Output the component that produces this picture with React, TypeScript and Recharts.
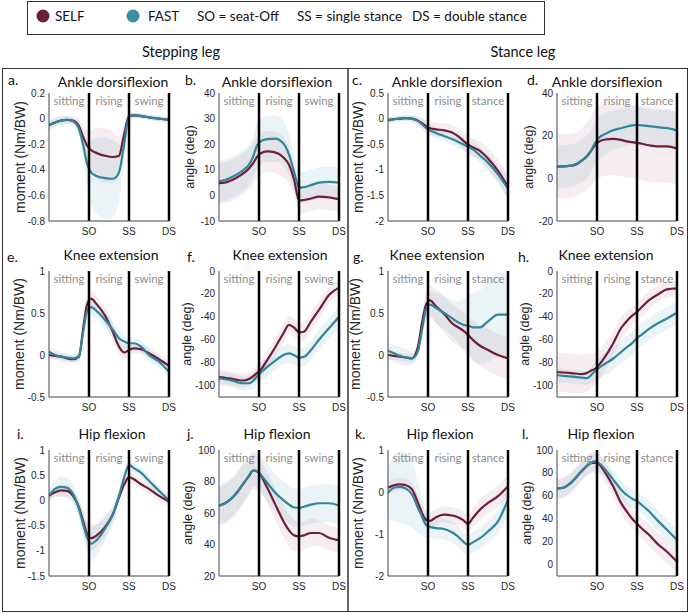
import React from "react";
import {
  ComposedChart,
  Area,
  Line,
  XAxis,
  YAxis,
  ReferenceLine,
  ReferenceArea,
} from "recharts";

const SELF_COLOR = "#701c3a";
const FAST_COLOR = "#2e8698";

// normalised time: 0 = start, 100 = seat-off, 200 = single stance, 300 = double stance
const X = [0, 15, 30, 45, 60, 75, 85, 95, 105, 120, 140, 160, 175, 188, 200, 212, 230, 250, 275, 300];
const PHASE_TICKS = [100, 200, 300];
const PHASE_NAMES: Record<number, string> = { 100: "SO", 200: "SS", 300: "DS" };

// a. stepping leg, ankle moment
const aSelf = [-0.05, -0.03, -0.015, -0.01, -0.015, -0.06, -0.14, -0.21, -0.245, -0.27, -0.29, -0.3, -0.29, -0.12, 0.02, 0.025, 0.02, 0.01, 0, -0.01];
const aFast = [-0.05, -0.03, -0.015, -0.01, -0.02, -0.08, -0.2, -0.35, -0.42, -0.45, -0.465, -0.47, -0.42, -0.2, 0.02, 0.025, 0.02, 0.01, 0, -0.01];
const aSelfSd = [0.03, 0.03, 0.03, 0.03, 0.03, 0.05, 0.08, 0.12, 0.16, 0.2, 0.21, 0.2, 0.15, 0.08, 0.03, 0.02, 0.02, 0.02, 0.02, 0.02];
const aFastSd = [0.04, 0.04, 0.04, 0.03, 0.03, 0.05, 0.1, 0.18, 0.25, 0.3, 0.32, 0.3, 0.22, 0.1, 0.03, 0.02, 0.02, 0.02, 0.02, 0.02];

// b. stepping leg, ankle angle
const bSelf = [4.8, 5, 5.8, 7, 8.5, 10.5, 12.5, 15, 16.5, 17.2, 16.8, 15, 12, 6, -2, -1.8, -1.2, -0.5, -0.8, -1.5];
const bFast = [5.5, 6, 7, 8.2, 9.8, 12, 15, 19.5, 21.2, 22, 22.2, 20.5, 16, 9, 3, 3.2, 4, 5, 5.3, 5];
const bSelfSd = [8, 8, 8, 8, 8, 8, 8, 8, 8, 8, 8, 8, 7, 6, 5, 5, 5, 5, 5, 5];
const bFastSd = [8, 8, 8, 8, 8, 8, 8, 9, 9, 9, 9, 9, 8, 7, 6, 6, 6, 6, 6, 6];

// c. stance leg, ankle moment
const cSelf = [-0.03, -0.01, 0, 0.01, 0, -0.04, -0.09, -0.15, -0.19, -0.21, -0.23, -0.27, -0.34, -0.43, -0.51, -0.56, -0.63, -0.78, -1.02, -1.33];
const cFast = [-0.03, -0.01, 0, 0.01, 0, -0.05, -0.11, -0.18, -0.23, -0.28, -0.34, -0.4, -0.45, -0.5, -0.55, -0.6, -0.72, -0.86, -1.09, -1.37];
const cSelfSd = [0.05, 0.05, 0.05, 0.05, 0.06, 0.08, 0.1, 0.12, 0.13, 0.13, 0.14, 0.15, 0.16, 0.17, 0.17, 0.17, 0.18, 0.2, 0.22, 0.24];
const cFastSd = [0.05, 0.05, 0.05, 0.05, 0.06, 0.08, 0.1, 0.11, 0.11, 0.11, 0.11, 0.12, 0.12, 0.13, 0.13, 0.13, 0.14, 0.16, 0.18, 0.2];

// d. stance leg, ankle angle
const dSelf = [5.5, 5.6, 5.8, 6.3, 8, 10.5, 12.8, 15.5, 17.2, 18.2, 18.5, 18, 17.3, 17, 16.6, 16.2, 15.5, 15, 15, 14];
const dFast = [5.5, 5.6, 5.8, 6.5, 8.2, 10.2, 13, 16.5, 19, 20.8, 22.5, 23.5, 24.3, 24.8, 25, 24.8, 24.5, 24, 23.5, 22.5];
const dSelfSd = [15, 15, 15, 15, 15, 16, 16, 17, 17, 17, 17, 17, 17, 17, 17, 17, 17, 17, 17, 17];
const dFastSd = [10, 10, 10, 10, 10, 10, 10, 10, 10, 10, 9, 9, 9, 9, 9, 9, 9, 9, 9, 9];

// e. stepping leg, knee moment
const eSelf = [0, -0.01, -0.02, -0.04, -0.05, -0.02, 0.3, 0.6, 0.67, 0.6, 0.47, 0.27, 0.1, 0.03, 0.06, 0.08, 0.07, 0.02, -0.05, -0.13];
const eFast = [0.04, 0, -0.02, -0.03, -0.04, -0.01, 0.26, 0.52, 0.57, 0.52, 0.42, 0.3, 0.2, 0.16, 0.14, 0.14, 0.1, 0, -0.08, -0.2];
const eSelfSd = [0.04, 0.04, 0.04, 0.04, 0.04, 0.05, 0.07, 0.09, 0.1, 0.1, 0.1, 0.1, 0.09, 0.08, 0.07, 0.06, 0.06, 0.06, 0.06, 0.06];
const eFastSd = [0.06, 0.06, 0.06, 0.05, 0.05, 0.06, 0.08, 0.1, 0.1, 0.1, 0.1, 0.1, 0.1, 0.08, 0.07, 0.07, 0.07, 0.07, 0.07, 0.07];

// f. stepping leg, knee angle
const fSelf = [-92.7, -93.2, -94, -95, -95.6, -94.3, -92, -89, -86, -78, -67, -55, -47, -49.5, -53.5, -53, -44, -34, -21, -14.5];
const fFast = [-93.6, -94.5, -95.5, -97, -98, -98, -96, -92, -88.5, -84, -78.5, -73.5, -72, -73.5, -75.6, -75, -69, -60, -50, -40];
const fSelfSd = [6, 6, 6, 6, 6, 6, 6, 7, 7, 7, 8, 8, 8, 8, 8, 8, 8, 8, 7, 6];
const fFastSd = [6, 6, 6, 6, 6, 6, 7, 7, 8, 8, 8, 8, 8, 8, 8, 8, 8, 9, 9, 9];

// g. stance leg, knee moment
const gSelf = [0, -0.01, -0.02, -0.03, -0.04, 0.1, 0.38, 0.6, 0.65, 0.58, 0.49, 0.38, 0.33, 0.29, 0.24, 0.18, 0.11, 0.06, 0, -0.04];
const gFast = [0.05, 0.02, -0.01, -0.03, -0.04, 0.05, 0.3, 0.54, 0.6, 0.56, 0.5, 0.44, 0.39, 0.36, 0.35, 0.33, 0.33, 0.4, 0.48, 0.48];
const gSelfSd = [0.05, 0.05, 0.05, 0.05, 0.05, 0.06, 0.1, 0.15, 0.18, 0.2, 0.22, 0.22, 0.22, 0.22, 0.22, 0.23, 0.24, 0.25, 0.25, 0.25];
const gFastSd = [0.1, 0.1, 0.1, 0.1, 0.08, 0.08, 0.1, 0.14, 0.16, 0.18, 0.2, 0.22, 0.25, 0.3, 0.36, 0.4, 0.44, 0.48, 0.5, 0.5];

// h. stance leg, knee angle
const hSelf = [-88.3, -88.6, -89, -89.5, -90, -89, -87, -85.5, -82, -75, -63.5, -50, -43.5, -39, -35.7, -31.5, -25.5, -21, -16, -15.2];
const hFast = [-91, -91.5, -92, -92.5, -93, -93.6, -91, -87.5, -84.5, -81, -76.6, -70.8, -66.5, -63, -58.5, -55.5, -50.5, -46, -41.5, -36.5];
const hSelfSd = [17, 17, 17, 17, 17, 16, 15, 14, 13, 12, 11, 10, 9, 8, 8, 8, 8, 7, 7, 7];
const hFastSd = [6, 6, 6, 6, 6, 6, 7, 8, 9, 10, 10, 10, 10, 10, 10, 10, 10, 10, 10, 10];

// i. stepping leg, hip moment
const iSelf = [0.09, 0.16, 0.2, 0.19, 0.09, -0.14, -0.4, -0.66, -0.75, -0.69, -0.53, -0.27, 0.06, 0.32, 0.46, 0.42, 0.32, 0.23, 0.09, -0.02];
const iFast = [0.09, 0.23, 0.27, 0.25, 0.13, -0.17, -0.46, -0.73, -0.86, -0.78, -0.56, -0.27, 0.09, 0.46, 0.7, 0.64, 0.55, 0.39, 0.19, 0];
const iSelfSd = [0.1, 0.1, 0.12, 0.12, 0.12, 0.15, 0.2, 0.25, 0.25, 0.22, 0.2, 0.15, 0.12, 0.1, 0.1, 0.1, 0.1, 0.1, 0.1, 0.1];
const iFastSd = [0.12, 0.15, 0.2, 0.2, 0.18, 0.18, 0.22, 0.3, 0.35, 0.3, 0.25, 0.18, 0.12, 0.1, 0.1, 0.1, 0.1, 0.1, 0.1, 0.1];

// j. stepping leg, hip angle
const jSelf = [64.7, 66.2, 69, 73, 78.4, 83.6, 87, 86.5, 83.5, 76.3, 65.8, 55.3, 49, 45.8, 45.2, 45.8, 47.3, 47.3, 44.3, 42.6];
const jFast = [64.7, 66.2, 69, 73, 78.4, 83.6, 87, 86.5, 84.2, 79.4, 73, 68.3, 65.3, 63.5, 63.2, 64, 65.3, 66.2, 66.2, 64.7];
const jSelfSd = [12, 12, 12, 12, 12, 11, 10, 10, 10, 10, 10, 10, 10, 10, 9, 9, 9, 8, 8, 8];
const jFastSd = [13, 13, 13, 13, 13, 12, 12, 12, 12, 12, 12, 12, 12, 12, 12, 12, 12, 12, 12, 12];

// k. stance leg, hip moment
const kSelf = [0.1, 0.16, 0.18, 0.16, 0.06, -0.26, -0.5, -0.66, -0.69, -0.6, -0.54, -0.56, -0.6, -0.67, -0.76, -0.62, -0.42, -0.26, -0.1, 0.14];
const kFast = [-0.02, 0.1, 0.12, 0.08, -0.06, -0.38, -0.58, -0.78, -0.83, -0.86, -0.88, -0.96, -1.06, -1.18, -1.26, -1.2, -1.1, -0.94, -0.7, -0.18];
const kSelfSd = [0.15, 0.15, 0.15, 0.15, 0.15, 0.18, 0.2, 0.2, 0.2, 0.2, 0.2, 0.2, 0.2, 0.2, 0.2, 0.22, 0.24, 0.25, 0.25, 0.25];
const kFastSd = [0.6, 0.8, 0.85, 0.85, 0.8, 0.6, 0.45, 0.3, 0.25, 0.25, 0.25, 0.25, 0.25, 0.25, 0.25, 0.25, 0.25, 0.25, 0.3, 0.35];

// l. stance leg, hip angle
const lSelf = [66.2, 67, 70, 75, 81, 86.2, 88.5, 89, 87.5, 80.5, 68.5, 53.8, 46, 40, 35.6, 31.5, 26, 18.5, 11.2, 2.4];
const lFast = [66.2, 67, 70, 75, 81, 86.2, 89.1, 90, 88.5, 83.2, 74.4, 65.6, 60.5, 57.5, 55.3, 52, 46.5, 39, 30.3, 21.5];
const lSelfSd = [9, 9, 9, 9, 9, 9, 9, 9, 9, 9, 9, 9, 9, 9, 9, 9, 10, 10, 10, 10];
const lFastSd = [8, 8, 8, 8, 8, 8, 8, 8, 8, 8, 8, 8, 8, 8, 8, 8, 9, 9, 9, 9];

const MOMENT = "moment (Nm/BW)";
const ANGLE = "angle (deg)";
const ROW_TITLES = ["Ankle dorsiflexion", "Knee extension", "Hip flexion"];

// layout (page pixels)
const COL_LEFT = [49, 219, 388, 557];
const ROW_TOP = [93, 271, 450];
const ROW_H = [128, 126, 126];
const PLOT_W = 120;
const Y_W = 40;
const M_TOP = 10;
const M_RIGHT = 8;
const X_H = 24;
const LETTER_X = [[8, 185, 352, 527], [7, 187, 353, 518], [17, 187, 355, 522]];
const LETTER_BASE = [85, 262, 439];
const TITLE_X = [[113, 277, 447, 607], [111, 280, 437, 606], [112, 277, 440, 601]];
const TITLE_BASE = [87, 260, 439];
const YLABEL_X = [[20, 190, 358, 529], [19, 187, 355, 525], [20, 188, 358, 527]];

const PANELS = [
  { id: "a", row: 0, col: 0, domain: [-0.8, 0.2], ticks: [-0.8, -0.6, -0.4, -0.2, 0, 0.2], self: aSelf, fast: aFast, selfSd: aSelfSd, fastSd: aFastSd },
  { id: "b", row: 0, col: 1, domain: [-10, 40], ticks: [-10, 0, 10, 20, 30, 40], self: bSelf, fast: bFast, selfSd: bSelfSd, fastSd: bFastSd },
  { id: "c", row: 0, col: 2, domain: [-2, 0.5], ticks: [-2, -1.5, -1, -0.5, 0, 0.5], self: cSelf, fast: cFast, selfSd: cSelfSd, fastSd: cFastSd },
  { id: "d", row: 0, col: 3, domain: [-20, 40], ticks: [-20, 0, 20, 40], self: dSelf, fast: dFast, selfSd: dSelfSd, fastSd: dFastSd },
  { id: "e", row: 1, col: 0, domain: [-0.5, 1], ticks: [-0.5, 0, 0.5, 1], self: eSelf, fast: eFast, selfSd: eSelfSd, fastSd: eFastSd },
  { id: "f", row: 1, col: 1, domain: [-110, 0], ticks: [-100, -80, -60, -40, -20, 0], self: fSelf, fast: fFast, selfSd: fSelfSd, fastSd: fFastSd },
  { id: "g", row: 1, col: 2, domain: [-0.5, 1], ticks: [-0.5, 0, 0.5, 1], self: gSelf, fast: gFast, selfSd: gSelfSd, fastSd: gFastSd },
  { id: "h", row: 1, col: 3, domain: [-110, 0], ticks: [-100, -80, -60, -40, -20, 0], self: hSelf, fast: hFast, selfSd: hSelfSd, fastSd: hFastSd },
  { id: "i", row: 2, col: 0, domain: [-1.5, 1], ticks: [-1.5, -1, -0.5, 0, 0.5, 1], self: iSelf, fast: iFast, selfSd: iSelfSd, fastSd: iFastSd },
  { id: "j", row: 2, col: 1, domain: [20, 100], ticks: [20, 40, 60, 80, 100], self: jSelf, fast: jFast, selfSd: jSelfSd, fastSd: jFastSd },
  { id: "k", row: 2, col: 2, domain: [-2, 1], ticks: [-2, -1, 0, 1], self: kSelf, fast: kFast, selfSd: kSelfSd, fastSd: kFastSd },
  { id: "l", row: 2, col: 3, domain: [-10, 100], ticks: [0, 20, 40, 60, 80, 100], self: lSelf, fast: lFast, selfSd: lSelfSd, fastSd: lFastSd },
];

const TICK_STYLE = { fontSize: 10, fill: "#262626", fontFamily: "Liberation Sans, Arial, sans-serif" };
const REGION_STYLE = { fill: "#8c8c8c", fontSize: 11.5, fontFamily: "Lato, sans-serif" };

function Panel({ p }: { p: (typeof PANELS)[number] }) {
  const h = ROW_H[p.row];
  const data = X.map((t, i) => ({
    t,
    self: p.self[i],
    fast: p.fast[i],
    selfBand: [p.self[i] - p.selfSd[i], p.self[i] + p.selfSd[i]],
    fastBand: [p.fast[i] - p.fastSd[i], p.fast[i] + p.fastSd[i]],
  }));
  // stepping leg columns end in swing, stance leg columns in stance
  const third = p.col < 2 ? "swing" : "stance";
  return (
    <div style={{ position: "absolute", left: COL_LEFT[p.col] - Y_W, top: ROW_TOP[p.row] - M_TOP }}>
      <ComposedChart
        width={Y_W + PLOT_W + M_RIGHT}
        height={M_TOP + h + X_H}
        data={data}
        margin={{ top: M_TOP, right: M_RIGHT, bottom: 0, left: 0 }}
      >
        <XAxis
          dataKey="t"
          type="number"
          domain={[0, 300]}
          ticks={PHASE_TICKS}
          tickFormatter={(v) => PHASE_NAMES[v]}
          interval={0}
          height={X_H}
          allowDataOverflow
          tickLine={false}
          tickSize={3}
          tickMargin={4}
          axisLine={{ stroke: "#444" }}
          tick={TICK_STYLE}
        />
        <YAxis
          type="number"
          domain={p.domain}
          ticks={p.ticks}
          interval={0}
          width={Y_W}
          allowDataOverflow
          tickLine={false}
          tickSize={3}
          tickMargin={1}
          axisLine={{ stroke: "#444" }}
          tick={TICK_STYLE}
        />
        <ReferenceArea x1={0} x2={100} fill="none" fillOpacity={0} label={{ value: "sitting", position: "insideTop", offset: 4, ...REGION_STYLE }} />
        <ReferenceArea x1={100} x2={200} fill="none" fillOpacity={0} label={{ value: "rising", position: "insideTop", offset: 4, ...REGION_STYLE }} />
        <ReferenceArea x1={200} x2={300} fill="none" fillOpacity={0} label={{ value: third, position: "insideTop", offset: 4, ...REGION_STYLE }} />
        <Area type="monotone" dataKey="selfBand" stroke="none" fill="#9a4a70" fillOpacity={0.1} isAnimationActive={false} />
        <Area type="monotone" dataKey="fastBand" stroke="none" fill="#5aa2b2" fillOpacity={0.13} isAnimationActive={false} />
        <Line type="monotone" dataKey="self" stroke={SELF_COLOR} strokeWidth={2.2} dot={false} isAnimationActive={false} />
        <Line type="monotone" dataKey="fast" stroke={FAST_COLOR} strokeWidth={2.2} dot={false} isAnimationActive={false} />
        {PHASE_TICKS.map((x) => (
          <ReferenceLine key={x} x={x} stroke="#000" strokeWidth={2.5} />
        ))}
      </ComposedChart>
    </div>
  );
}

export default function App() {
  const titleFont = { fontFamily: "Lato, sans-serif", fill: "#111" };
  return (
    <div style={{ position: "absolute", left: 0, top: 0, width: 690, height: 614, background: "#fff" }}>
      <svg width={690} height={614} style={{ position: "absolute", left: 0, top: 0 }}>
        {/* legend */}
        <rect x={27.5} y={1.5} width={517} height={33} fill="none" stroke="#333" />
        <circle cx={43} cy={16} r={6.5} fill="#6b1d3e" />
        <circle cx={133} cy={16} r={6.5} fill="#3a8fa0" />
        <g style={titleFont} fontSize={13.5}>
          <text x={55} y={21}>SELF</text>
          <text x={148} y={21}>FAST</text>
          <text x={197} y={21}>SO = seat-Off</text>
          <text x={297} y={21}>SS = single stance</text>
          <text x={412} y={21}>DS = double stance</text>
        </g>
        <g style={titleFont} fontSize={14.5} textAnchor="middle">
          <text x={181} y={57}>Stepping leg</text>
          <text x={523} y={57}>Stance leg</text>
        </g>
        <rect x={2.5} y={68.5} width={345.5} height={543} fill="none" stroke="#333" />
        <rect x={348} y={68.5} width={339.5} height={543} fill="none" stroke="#333" />
        {PANELS.map((p) => {
          const cy = ROW_TOP[p.row] + ROW_H[p.row] / 2;
          const cx = YLABEL_X[p.row][p.col];
          const isMoment = p.col % 2 === 0;
          return (
            <g key={p.id}>
              <text x={LETTER_X[p.row][p.col]} y={LETTER_BASE[p.row]} fontSize={14} style={titleFont}>
                {p.id + "."}
              </text>
              <text x={TITLE_X[p.row][p.col]} y={TITLE_BASE[p.row]} fontSize={14} textAnchor="middle" style={titleFont}>
                {ROW_TITLES[p.row]}
              </text>
              <text
                transform={`translate(${cx},${cy}) rotate(-90)`}
                textAnchor="middle"
                dominantBaseline="central"
                fontSize={isMoment ? 14 : 12.5}
                fontFamily="Liberation Sans, Arial, sans-serif"
                fill="#262626"
              >
                {isMoment ? MOMENT : ANGLE}
              </text>
            </g>
          );
        })}
      </svg>
      {PANELS.map((p) => (
        <Panel key={p.id} p={p} />
      ))}
    </div>
  );
}
